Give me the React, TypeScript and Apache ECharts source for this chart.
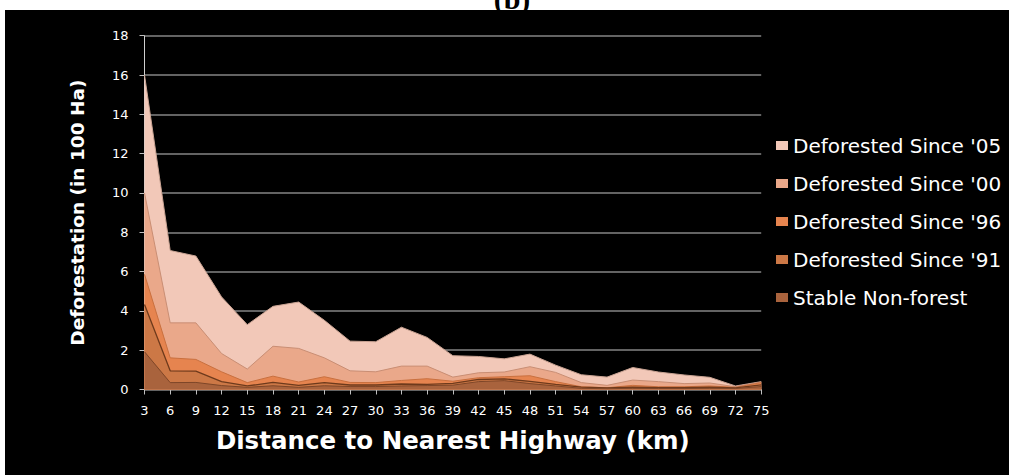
import React, { useEffect, useRef } from "react";
import * as echarts from "echarts";

const categories = ["3", "6", "9", "12", "15", "18", "21", "24", "27", "30", "33", "36", "39", "42", "45", "48", "51", "54", "57", "60", "63", "66", "69", "72", "75"];

// Top boundary of each band (values in 100 Ha)
const since05 = [16.0, 7.07, 6.79, 4.71, 3.3, 4.23, 4.45, 3.52, 2.46, 2.43, 3.17, 2.65, 1.72, 1.68, 1.56, 1.8, 1.24, 0.75, 0.63, 1.12, 0.89, 0.74, 0.62, 0.18, 0.4];
const since00 = [10.0, 3.39, 3.39, 1.83, 1.04, 2.2, 2.09, 1.61, 0.95, 0.9, 1.19, 1.19, 0.63, 0.85, 0.89, 1.16, 0.87, 0.35, 0.21, 0.48, 0.4, 0.3, 0.33, 0.14, 0.38];
const since96 = [5.86, 1.61, 1.53, 0.9, 0.35, 0.68, 0.38, 0.65, 0.36, 0.35, 0.46, 0.55, 0.42, 0.6, 0.65, 0.7, 0.4, 0.14, 0.09, 0.21, 0.14, 0.14, 0.18, 0.11, 0.35];
const since91 = [4.33, 0.95, 0.93, 0.4, 0.18, 0.36, 0.21, 0.35, 0.23, 0.23, 0.28, 0.26, 0.31, 0.51, 0.54, 0.41, 0.26, 0.12, 0.08, 0.12, 0.1, 0.1, 0.12, 0.08, 0.23];
const stable = [1.92, 0.35, 0.36, 0.2, 0.11, 0.19, 0.11, 0.19, 0.15, 0.15, 0.18, 0.2, 0.22, 0.4, 0.45, 0.3, 0.18, 0.06, 0.04, 0.06, 0.05, 0.05, 0.06, 0.05, 0.15];

const seriesNames = ["Deforested Since '05", "Deforested Since '00", "Deforested Since '96", "Deforested Since '91", "Stable Non-forest"];
const seriesData = [since05, since00, since96, since91, stable];
const fillColors = ["#F2C8B8", "#EAA88A", "#E6844F", "#CC7846", "#A9633D"];
const edgeColors = ["#C9A393", "#C98E74", "#C9703F", "#6E3A1C", "#7E4628"];

export default function App() {
  const ref = useRef<HTMLDivElement>(null);

  useEffect(() => {
    if (!ref.current) return;
    const chart = echarts.init(ref.current, undefined, { renderer: "svg" });
    const option = {
      animation: false,
      backgroundColor: "transparent",
      graphic: [
        {
          type: "text",
          x: 512,
          y: -2,
          style: {
            text: "(b)",
            fill: "#000",
            font: "bold 30px 'Liberation Serif', serif",
            textAlign: "center",
            textVerticalAlign: "middle",
          },
        },
      ],
      grid: { left: 144.5, right: 248.8, top: 35.7, bottom: 85.5, containLabel: false },
      legend: {
        orient: "vertical",
        left: 776,
        top: 135.5,
        padding: 0,
        itemGap: 18,
        itemWidth: 12,
        itemHeight: 9,
        icon: "rect",
        data: seriesNames,
        textStyle: { color: "#fff", fontSize: 20, fontFamily: "DejaVu Sans" },
        itemStyle: { borderWidth: 0 },
      },
      xAxis: {
        type: "category",
        data: categories,
        boundaryGap: false,
        name: "Distance to Nearest Highway (km)",
        nameLocation: "middle",
        nameGap: 38,
        nameTextStyle: { color: "#fff", fontSize: 24.5, fontWeight: "bold", fontFamily: "DejaVu Sans" },
        axisLine: { show: true, lineStyle: { color: "#a6a6a6", width: 1 } },
        axisTick: { show: true, length: 5, interval: 0, lineStyle: { color: "#bfbfbf" } },
        axisLabel: { interval: 0, color: "#fff", fontSize: 13, fontFamily: "DejaVu Sans", margin: 14 },
        splitLine: { show: false },
      },
      yAxis: {
        type: "value",
        min: 0,
        max: 18,
        interval: 2,
        name: "Deforestation (in 100 Ha)",
        nameLocation: "middle",
        nameGap: 58,
        nameTextStyle: { color: "#fff", fontSize: 18.5, fontWeight: "bold", fontFamily: "DejaVu Sans" },
        axisLine: { show: true, lineStyle: { color: "#d0d0d0", width: 1 } },
        axisTick: { show: true, length: 5, lineStyle: { color: "#bfbfbf" } },
        axisLabel: { color: "#fff", fontSize: 13, fontFamily: "DejaVu Sans", margin: 16 },
        splitLine: { show: true, lineStyle: { color: "#858585", width: 1.5 } },
      },
      series: seriesNames.map((name, i) => ({
        name,
        type: "line",
        data: seriesData[i],
        symbol: "none",
        smooth: false,
        color: fillColors[i],
        lineStyle: { color: edgeColors[i], width: i === 3 ? 1.3 : 1 },
        areaStyle: { color: fillColors[i], opacity: 1 },
        itemStyle: { color: fillColors[i] },
      })),
    };
    chart.setOption(option as any);
    return () => chart.dispose();
  }, []);

  return (
    <div style={{ position: "fixed", left: 0, top: 0, width: 1010, height: 475, background: "#fff", overflow: "hidden" }}>
      <div style={{ position: "absolute", left: 5, top: 10, width: 1004, height: 465, background: "#000" }} />
      <div ref={ref} style={{ position: "absolute", left: 0, top: 0, width: 1010, height: 475 }} />
    </div>
  );
}
